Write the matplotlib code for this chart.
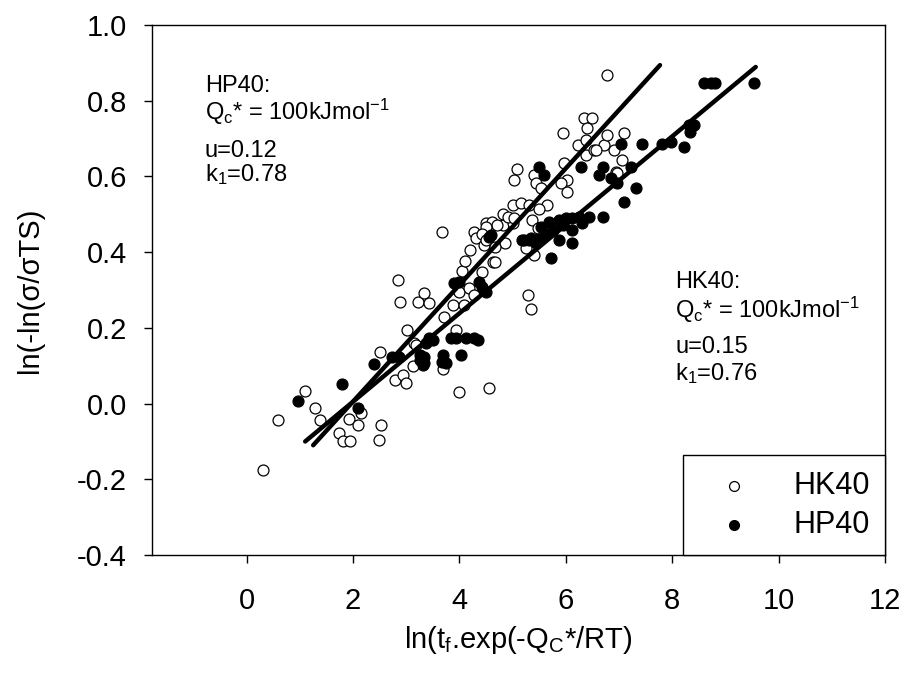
import matplotlib
matplotlib.use('Agg')
import matplotlib.pyplot as plt

plt.rcParams['font.family'] = ['Liberation Sans', 'DejaVu Sans']
plt.rcParams['mathtext.fontset'] = 'custom'
plt.rcParams['mathtext.rm'] = 'Liberation Sans'
plt.rcParams['mathtext.it'] = 'Liberation Sans'
plt.rcParams['mathtext.default'] = 'regular'
plt.rcParams['axes.unicode_minus'] = False

# HK40 (open circles)
hk40_x = [0.31, 0.59, 1.09, 1.29, 1.38, 1.73, 1.82, 1.95, 1.93, 2.09, 2.14, 2.53, 2.48, 2.50,
          2.79, 2.93, 3.00, 3.12, 3.15,
          3.68, 2.85, 2.89, 3.23, 3.34, 3.42, 3.01, 3.18, 3.71, 3.88, 4.09, 3.93, 4.00, 4.18,
          4.28, 4.05, 4.10, 4.20, 4.43, 4.63, 4.28, 4.31, 4.47, 4.50, 4.62, 4.81, 5.00, 4.85,
          5.29, 5.34, 5.25,
          5.09, 5.03, 5.40, 5.44, 5.53, 5.97, 6.03, 5.90, 6.03, 6.22, 6.37, 6.53, 6.72, 6.90,
          7.06, 6.94, 5.00, 5.15, 5.31, 5.65, 5.50, 4.81, 4.91, 5.03, 4.62, 4.71, 4.50, 4.43,
          4.50, 4.66, 5.37, 5.47, 5.40, 4.66,
          6.78, 6.78, 7.09, 6.97, 6.34, 6.49, 6.40, 5.95, 6.56, 6.37,
          4.00, 4.55, 3.70]
hk40_y = [-0.175, -0.043, 0.033, -0.012, -0.043, -0.077, -0.100, -0.100, -0.041, -0.056, -0.026,
          -0.056, -0.096, 0.137, 0.062, 0.076, 0.055, 0.100, 0.160,
          0.452, 0.327, 0.269, 0.269, 0.293, 0.265, 0.194, 0.155, 0.230, 0.260, 0.260, 0.194,
          0.296, 0.305, 0.287, 0.351, 0.377, 0.406, 0.348, 0.373, 0.454, 0.437, 0.419, 0.476,
          0.472, 0.472, 0.476, 0.423, 0.287, 0.249, 0.410,
          0.621, 0.591, 0.604, 0.582, 0.569, 0.635, 0.591, 0.582, 0.560, 0.683, 0.657, 0.670,
          0.683, 0.670, 0.643, 0.613, 0.524, 0.529, 0.524, 0.524, 0.515, 0.502, 0.493, 0.489,
          0.480, 0.472, 0.467, 0.449, 0.432, 0.414, 0.485, 0.463, 0.392, 0.375,
          0.868, 0.709, 0.716, 0.608, 0.755, 0.755, 0.727, 0.714, 0.670, 0.696,
          0.031, 0.040, 0.091]

# HP40 (filled circles)
hp40_x = [0.96, 1.80, 2.09, 2.40, 2.74, 2.87, 3.25, 3.34, 3.34, 3.25, 3.70, 3.74, 4.03, 3.68,
          3.31, 3.43, 3.84, 3.93, 4.12, 4.28, 3.50, 3.37, 4.34,
          4.59, 3.90, 4.00, 4.37, 4.43, 4.50, 5.18, 5.34, 5.43,
          5.50, 5.59, 6.28, 6.69, 6.62, 6.84, 6.97, 7.22, 7.31, 7.09,
          7.03, 7.44, 7.81, 7.97, 8.22, 8.31, 8.41, 8.34, 8.59, 8.72, 8.81, 9.53,
          5.68, 5.87, 6.00, 6.12, 6.25, 6.44, 6.69, 6.31, 6.12, 5.94, 5.75, 5.62, 5.47, 5.31,
          5.22, 5.87, 6.12, 5.72, 4.56, 5.53]
hp40_y = [0.007, 0.051, -0.012, 0.104, 0.124, 0.124, 0.128, 0.106, 0.124, 0.115, 0.128, 0.106,
          0.128, 0.111, 0.102, 0.172, 0.172, 0.172, 0.172, 0.172, 0.168, 0.159, 0.168,
          0.445, 0.318, 0.322, 0.322, 0.309, 0.296, 0.432, 0.437, 0.423,
          0.625, 0.604, 0.625, 0.625, 0.604, 0.595, 0.582, 0.625, 0.569, 0.533,
          0.687, 0.687, 0.687, 0.692, 0.677, 0.736, 0.736, 0.718, 0.846, 0.846, 0.846, 0.846,
          0.480, 0.485, 0.489, 0.489, 0.494, 0.494, 0.494, 0.476, 0.459, 0.472, 0.459, 0.449,
          0.436, 0.432, 0.432, 0.432, 0.423, 0.384, 0.441, 0.467]

# regression lines: slope, intercept, x extent
hk40_fit = [0.154, -0.3025]
hk40_fit_range = [1.25, 7.77]
hp40_fit = [0.1168, -0.2285]
hp40_fit_range = [1.10, 9.57]

fig = plt.figure(figsize=(9.09, 6.73), dpi=100)
ax = fig.add_axes([0.1672, 0.1753, 0.8064, 0.7875])

ax.scatter(hk40_x, hk40_y, s=62, facecolors='white', edgecolors='black',
           linewidths=0.9, label='HK40', zorder=3)
ax.scatter(hp40_x, hp40_y, s=62, c='black', edgecolors='black',
           linewidths=0.9, label='HP40', zorder=3)

for fit, rng in [(hk40_fit, hk40_fit_range), (hp40_fit, hp40_fit_range)]:
    ys = [fit[0] * x + fit[1] for x in rng]
    ax.plot(rng, ys, color='black', lw=3.2, solid_capstyle='round', zorder=4)

ax.set_xlim(-1.78, 12)
ax.set_ylim(-0.4, 1.0)
ax.set_xticks([0, 2, 4, 6, 8, 10, 12])
ax.set_yticks([-0.4, -0.2, 0.0, 0.2, 0.4, 0.6, 0.8, 1.0])
ax.set_yticklabels(['%.1f' % v for v in ax.get_yticks()])
ax.tick_params(direction='out', length=6, width=1, labelsize=21, colors='black')
ax.tick_params(axis='x', pad=17)
ax.tick_params(axis='y', pad=12)
for sp in ax.spines.values():
    sp.set_linewidth(1)

ax.set_xlabel('ln(t$_{f}$.exp(-Q$_{C}$*/RT)', fontsize=21, va='center')
ax.xaxis.set_label_coords(0.5, -0.16)
ax.set_ylabel('ln(-ln(σ/σTS)', fontsize=21, va='center')
ax.yaxis.set_label_coords(-0.166, 0.5)

ann = 17
ax.text(0.072, 0.874, 'HP40:', transform=ax.transAxes, fontsize=ann)
ax.text(0.072, 0.821, 'Q$_{c}$* = 100kJmol$^{-1}$', transform=ax.transAxes, fontsize=ann)
ax.text(0.072, 0.751, 'u=0.12', transform=ax.transAxes, fontsize=ann)
ax.text(0.072, 0.706, 'k$_{1}$=0.78', transform=ax.transAxes, fontsize=ann)

ax.text(0.714, 0.504, 'HK40:', transform=ax.transAxes, fontsize=ann)
ax.text(0.714, 0.447, 'Q$_{c}$* = 100kJmol$^{-1}$', transform=ax.transAxes, fontsize=ann)
ax.text(0.714, 0.381, 'u=0.15', transform=ax.transAxes, fontsize=ann)
ax.text(0.714, 0.330, 'k$_{1}$=0.76', transform=ax.transAxes, fontsize=ann)

leg = ax.legend(loc='lower right', bbox_to_anchor=(1.0, 0.0), borderaxespad=0,
                fontsize=22, scatterpoints=1, markerscale=0.9, fancybox=False,
                edgecolor='black', framealpha=1, borderpad=0.5, handlelength=2.35,
                handletextpad=0.75, labelspacing=0.3)
leg.get_frame().set_linewidth(1)

fig.savefig('out.png', dpi=100)
